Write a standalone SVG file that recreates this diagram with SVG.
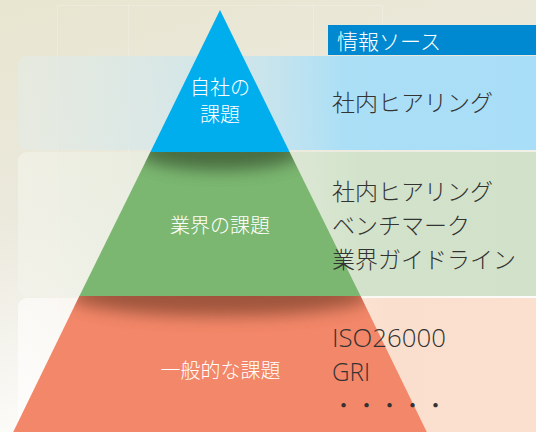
<svg xmlns="http://www.w3.org/2000/svg" width="536" height="432" viewBox="0 0 536 432">
<style>
.jp{font-family:"Noto Sans CJK JP","Noto Sans",sans-serif;font-weight:300}
.lbl{fill:#ffffff;font-size:20px;text-anchor:middle}
.src{fill:#333333;font-size:23px}
.lat{font-family:"Open Sans","Noto Sans",sans-serif;font-weight:300;fill:#333333;font-size:26px}
.grid{stroke:#ffffff;stroke-opacity:0.22;stroke-width:1;fill:none}
</style>
<defs>
<linearGradient id="bg" x1="0" y1="0" x2="0.35" y2="1">
<stop offset="0" stop-color="#e8e5d0"/>
<stop offset="0.45" stop-color="#ebe9dc"/>
<stop offset="1" stop-color="#ffffff"/>
</linearGradient>
<linearGradient id="bBlue" x1="0" y1="0" x2="1" y2="0">
<stop offset="0" stop-color="#e4ece8" stop-opacity="0.5"/>
<stop offset="0.45" stop-color="#c4e4f0" stop-opacity="0.8"/>
<stop offset="0.62" stop-color="#abdff6"/>
<stop offset="1" stop-color="#a9def8"/>
</linearGradient>
<linearGradient id="bGreen" x1="0" y1="0" x2="1" y2="0">
<stop offset="0" stop-color="#f4f4ec" stop-opacity="0.6"/>
<stop offset="0.45" stop-color="#dde8d6" stop-opacity="0.85"/>
<stop offset="0.65" stop-color="#d3e3cb"/>
<stop offset="1" stop-color="#d2e2ca"/>
</linearGradient>
<linearGradient id="bPeach" x1="0" y1="0" x2="1" y2="0">
<stop offset="0" stop-color="#ffffff" stop-opacity="0.6"/>
<stop offset="0.45" stop-color="#fcebe0" stop-opacity="0.85"/>
<stop offset="0.7" stop-color="#fbdfce"/>
<stop offset="1" stop-color="#fbe0cf"/>
</linearGradient>
<filter id="blur" x="-50%" y="-50%" width="200%" height="200%"><feGaussianBlur stdDeviation="8"/></filter>
<clipPath id="cGreen"><polygon points="150.4,152 289.6,152 360.6,296 79.4,296"/></clipPath>
<clipPath id="cSalmon"><polygon points="79.4,296 360.6,296 426.8,432 13.2,432"/></clipPath>
</defs>

<rect x="0" y="0" width="536" height="432" fill="url(#bg)"/>
<g class="grid">
<rect x="57.5" y="5.5" width="325" height="440"/>
<line x1="128.5" y1="5" x2="128.5" y2="432"/>
<line x1="313.5" y1="5" x2="313.5" y2="432"/>
</g>

<g id="bands">
<rect id="band-blue" x="18" y="56" width="526" height="94" rx="9" fill="url(#bBlue)"/>
<rect id="band-green" x="18" y="152" width="526" height="144" rx="9" fill="url(#bGreen)"/>
<rect id="band-peach" x="18" y="298" width="526" height="150" rx="9" fill="url(#bPeach)"/>
</g>

<g id="header">
<rect x="328" y="25" width="208" height="30" fill="#0089d1"/>
<text class="jp" x="337" y="49" fill="#ffffff" font-size="21">情報ソース</text>
</g>

<g id="layer-general">
<polygon points="79.4,296 360.6,296 426.8,432 13.2,432" fill="#f38769"/>
<g clip-path="url(#cSalmon)">
<ellipse cx="220" cy="296" rx="150" ry="20" fill="#8a4a32" opacity="0.8" filter="url(#blur)"/>
</g>
<text class="jp lbl" x="220.5" y="378">一般的な課題</text>
</g>

<g id="layer-industry">
<polygon points="150.4,152 289.6,152 360.6,296 79.4,296" fill="#7bb771"/>
<g clip-path="url(#cGreen)">
<ellipse cx="220" cy="152" rx="82" ry="18" fill="#3c5a34" opacity="0.8" filter="url(#blur)"/>
</g>
<text class="jp lbl" x="220" y="233">業界の課題</text>
</g>

<g id="layer-company">
<polygon points="220,10 289.6,152 150.4,152" fill="#00aeee"/>
<text class="jp lbl" x="220" y="95" font-size="19">自社の</text>
<text class="jp lbl" x="220" y="122" font-size="19">課題</text>
</g>

<g id="sources">
<text class="jp src" x="332" y="111">社内ヒアリング</text>
<text class="jp src" x="332" y="200">社内ヒアリング</text>
<text class="jp src" x="332" y="234">ベンチマーク</text>
<text class="jp src" x="332" y="268">業界ガイドライン</text>
<text class="lat" x="332" y="347" textLength="114" lengthAdjust="spacingAndGlyphs">ISO26000</text>
<text class="lat" x="332" y="381" textLength="38" lengthAdjust="spacingAndGlyphs">GRI</text>
<text class="jp src" x="332" y="414">・・・・・</text>
</g>
</svg>
